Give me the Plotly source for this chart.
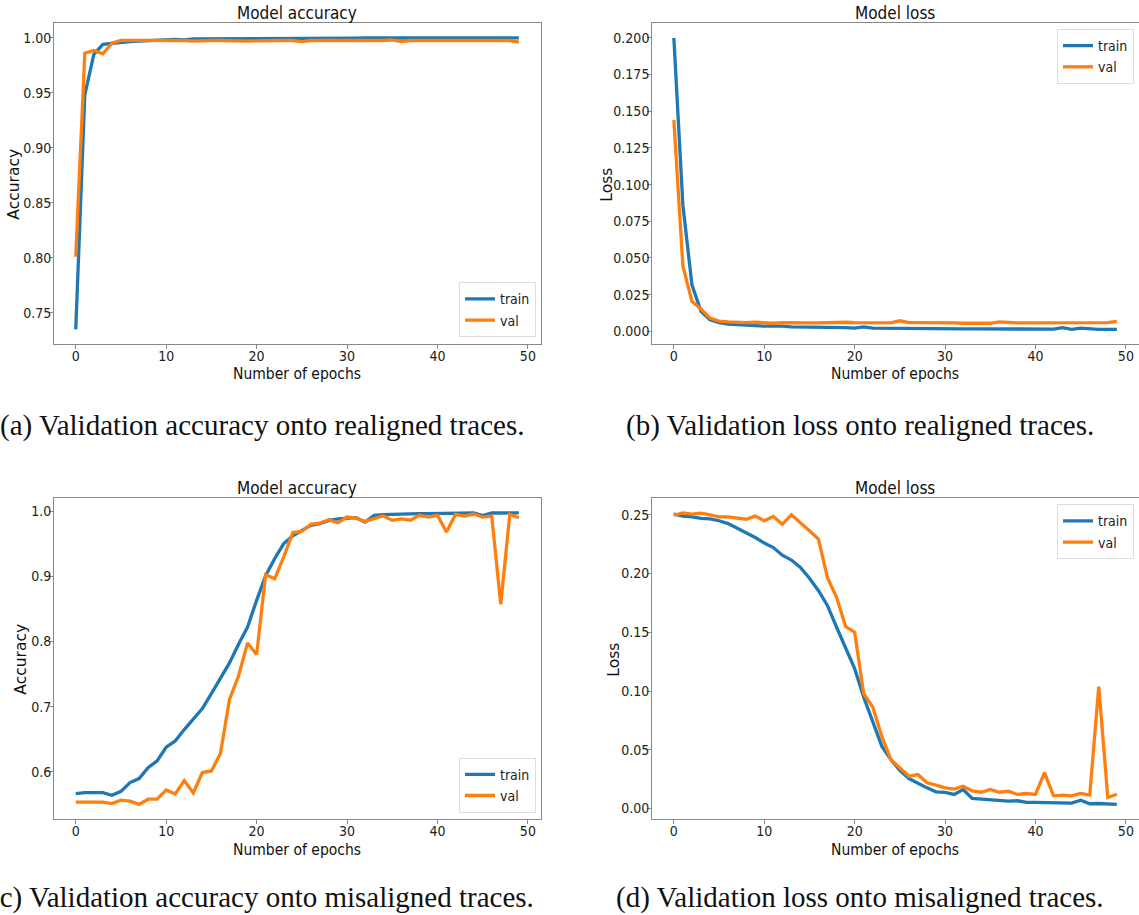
import plotly.graph_objects as go

W, H = 1139, 915
epochs = list(range(50))

a_train = [0.735, 0.948, 0.985, 0.994, 0.995, 0.996, 0.9965, 0.997, 0.9975, 0.998,
           0.9985, 0.9985, 0.998, 0.999, 0.999, 0.999, 0.9992, 0.9993, 0.9993, 0.999,
           0.9996, 0.9991, 0.9995, 0.9995, 0.9996, 0.9996, 0.9996, 0.9997, 0.9997, 0.9997,
           0.9997, 0.9997, 0.9998, 0.9998, 0.9998, 0.9998, 0.9998, 0.9998, 0.9998, 0.9998,
           0.9998, 0.9998, 0.9998, 0.9991, 0.9996, 0.9992, 0.9998, 0.9999, 0.9999, 0.9999]
a_val = [0.801, 0.986, 0.9885, 0.9855, 0.995, 0.9976, 0.9976, 0.9976, 0.9978, 0.9975,
         0.9975, 0.9975, 0.9975, 0.997, 0.9975, 0.9975, 0.9975, 0.9972, 0.9972, 0.997,
         0.9972, 0.9975, 0.9975, 0.9975, 0.9975, 0.9965, 0.9975, 0.9975, 0.997, 0.997,
         0.9975, 0.9975, 0.9975, 0.9975, 0.9975, 0.998, 0.9965, 0.9975, 0.9975, 0.9975,
         0.9975, 0.9978, 0.9975, 0.9978, 0.9975, 0.9978, 0.9978, 0.9978, 0.9975, 0.996]

b_train = [0.200, 0.086, 0.0317, 0.0136, 0.0079, 0.006, 0.005, 0.0045, 0.004, 0.004,
           0.0035, 0.0035, 0.0036, 0.003, 0.003, 0.0028, 0.0026, 0.0025, 0.0025, 0.0025,
           0.0022, 0.003, 0.0022, 0.0021, 0.002, 0.002, 0.002, 0.0019, 0.0019, 0.0019,
           0.0018, 0.0018, 0.0017, 0.0017, 0.0017, 0.0017, 0.0016, 0.0016, 0.0016, 0.0016,
           0.0015, 0.0015, 0.0015, 0.0025, 0.0014, 0.0022, 0.0015, 0.0013, 0.0013, 0.0013]
b_val = [0.144, 0.0446, 0.0204, 0.0152, 0.009, 0.007, 0.0065, 0.006, 0.006, 0.0062,
         0.0058, 0.0055, 0.006, 0.0058, 0.006, 0.0058, 0.0058, 0.006, 0.0058, 0.0062,
         0.006, 0.006, 0.0056, 0.0058, 0.0058, 0.0072, 0.006, 0.006, 0.006, 0.0062,
         0.006, 0.0058, 0.0055, 0.0055, 0.0058, 0.0055, 0.0065, 0.006, 0.0058, 0.0058,
         0.0058, 0.0058, 0.0055, 0.0058, 0.0058, 0.0058, 0.0058, 0.0055, 0.006, 0.0068]

c_train = [0.5667, 0.568, 0.568, 0.568, 0.564, 0.570, 0.5835, 0.5897, 0.6065, 0.6168,
           0.6377, 0.6474, 0.6648, 0.681, 0.697, 0.720, 0.7445, 0.767, 0.7956, 0.822,
           0.863, 0.901, 0.927, 0.950, 0.962, 0.970, 0.978, 0.9806, 0.9857, 0.988,
           0.989, 0.9898, 0.983, 0.9934, 0.9944, 0.995, 0.9955, 0.996, 0.996, 0.996,
           0.9963, 0.997, 0.997, 0.997, 0.997, 0.993, 0.997, 0.997, 0.997, 0.9972]
c_val = [0.5534, 0.5534, 0.5534, 0.5534, 0.5513, 0.5565, 0.555, 0.550, 0.558, 0.558,
         0.572, 0.566, 0.5866, 0.5677, 0.5989, 0.6014, 0.628, 0.711, 0.747, 0.7976,
         0.7798, 0.9024, 0.896, 0.9295, 0.967, 0.969, 0.9796, 0.9816, 0.9867, 0.982,
         0.9908, 0.989, 0.984, 0.988, 0.9928, 0.9857, 0.988, 0.986, 0.9934, 0.9908,
         0.9934, 0.968, 0.9949, 0.9923, 0.9954, 0.9908, 0.9923, 0.857, 0.9949, 0.9898]

d_train = [0.2506, 0.249, 0.2483, 0.247, 0.2466, 0.245, 0.2426, 0.2387, 0.2347, 0.2307,
           0.226, 0.2222, 0.2157, 0.2115, 0.2053, 0.196, 0.1854, 0.1727, 0.1543, 0.1373,
           0.119, 0.0948, 0.0736, 0.053, 0.0416, 0.0325, 0.0254, 0.0212, 0.0175, 0.0141,
           0.0136, 0.0119, 0.0161, 0.0085, 0.0079, 0.0071, 0.0065, 0.0062, 0.0065, 0.0051,
           0.0051, 0.0048, 0.0045, 0.0045, 0.0045, 0.007, 0.004, 0.0042, 0.004, 0.0034]
d_val = [0.2497, 0.2517, 0.2506, 0.2514, 0.25, 0.2483, 0.2483, 0.2472, 0.2463, 0.2489,
         0.2449, 0.2486, 0.242, 0.25, 0.2435, 0.2364, 0.2293, 0.1962, 0.1798, 0.1549,
         0.150, 0.0977, 0.0864, 0.0614, 0.0416, 0.0345, 0.0274, 0.0288, 0.0218, 0.0198,
         0.0175, 0.0164, 0.0189, 0.015, 0.0138, 0.0161, 0.0138, 0.0147, 0.0119, 0.0127,
         0.0119, 0.0305, 0.0107, 0.0113, 0.0107, 0.0127, 0.0113, 0.1037, 0.0093, 0.0121]

series_names = ["train", "val"]
panel_titles = ["Model accuracy", "Model loss", "Model accuracy", "Model loss"]
y_titles = ["Accuracy", "Loss", "Accuracy", "Loss"]
x_title = "Number of epochs"
captions = ["(a) Validation accuracy onto realigned traces.",
            "(b) Validation loss onto realigned traces.",
            "(c) Validation accuracy onto misaligned traces.",
            "(d) Validation loss onto misaligned traces."]
y_dticks = [0.05, 0.025, 0.1, 0.05]
y_formats = [".2f", ".3f", ".1f", ".2f"]

BLUE, ORANGE = "#1f77b4", "#ff7f0e"
SANS = "DejaVu Sans Condensed, DejaVu Sans, sans-serif"
YSANS = "DejaVu Sans, sans-serif"
SERIF = "Liberation Serif, DejaVu Serif, serif"

boxes = [(53.6, 541.0, 23.3, 344.0), (651.7, 1139.0, 23.3, 344.0),
         (53.6, 541.0, 498.3, 819.0), (651.7, 1139.0, 498.3, 819.0)]
legend_pos = [(536, 337.3, "bottom"), (1134, 29, "top"), (536, 812.7, "bottom"), (1134, 504.3, "top")]
ylabel_x = [14, 607, 21, 614]
caption_pos = [(262, 425), (860, 425), (262, 897), (860, 897)]

data = [(a_train, a_val), (b_train, b_val), (c_train, c_val), (d_train, d_val)]

fig = go.Figure()
annotations = []
layout = dict(width=W, height=H, margin=dict(l=0, r=0, t=0, b=0),
              paper_bgcolor="white", plot_bgcolor="white", showlegend=True)

def px(x):
    return x / W

def py(y):
    return 1 - y / H

for i, ((tr, va), box) in enumerate(zip(data, boxes)):
    k = "" if i == 0 else str(i + 1)
    leg = "legend" + k
    for vals, name, col in ((tr, series_names[0], BLUE), (va, series_names[1], ORANGE)):
        fig.add_trace(go.Scatter(x=epochs, y=vals, name=name, mode="lines",
                                 line=dict(color=col, width=3.3),
                                 xaxis="x" + k, yaxis="y" + k, legend=leg))
    lo = min(min(tr), min(va))
    hi = max(max(tr), max(va))
    pad = 0.05 * (hi - lo)
    xpad = 0.05 * (epochs[-1] - epochs[0])
    l, r, t, b = box
    axis_common = dict(showline=True, linecolor="#888888", linewidth=1, mirror=True,
                       showgrid=False, zeroline=False, ticks="outside", ticklen=3.5,
                       tickcolor="#888888",
                       tickfont=dict(family=SANS, size=14, color="#222222"))
    layout["xaxis" + k] = dict(domain=[px(l), px(r)], anchor="y" + k,
                               range=[epochs[0] - xpad, epochs[-1] + xpad],
                               dtick=10, tick0=0, ticklabelstandoff=-4, **axis_common)
    layout["yaxis" + k] = dict(domain=[py(b), py(t)], anchor="x" + k,
                               range=[lo - pad, hi + pad], dtick=y_dticks[i], tick0=0,
                               tickformat=y_formats[i], ticklabelstandoff=-5, **axis_common)
    lx, ly, lya = legend_pos[i]
    layout[leg] = dict(x=px(lx), y=py(ly), xanchor="right", yanchor=lya,
                       bgcolor="white", bordercolor="#dddddd", borderwidth=1,
                       font=dict(family=SANS, size=14, color="#222222"),
                       itemwidth=30, tracegroupgap=0)
    cx = (l + r) / 2
    annotations.append(dict(text=panel_titles[i], x=px(cx), y=py(t - 10), xref="paper", yref="paper",
                            showarrow=False, xanchor="center", yanchor="middle",
                            font=dict(family=SANS, size=17, color="#111111")))
    annotations.append(dict(text=x_title, x=px(cx), y=py(b + 30.5), xref="paper", yref="paper",
                            showarrow=False, xanchor="center", yanchor="middle",
                            font=dict(family=SANS, size=15.5, color="#111111")))
    annotations.append(dict(text=y_titles[i], x=px(ylabel_x[i]), y=py((t + b) / 2 + 1), xref="paper",
                            yref="paper", showarrow=False, xanchor="center", yanchor="middle",
                            textangle=-90, font=dict(family=YSANS, size=15.5, color="#111111")))
    cpx, cpy = caption_pos[i]
    annotations.append(dict(text=captions[i], x=px(cpx), y=py(cpy), xref="paper", yref="paper",
                            showarrow=False, xanchor="center", yanchor="middle",
                            font=dict(family=SERIF, size=29, color="#111111")))

layout["annotations"] = annotations
fig.update_layout(**layout)
fig.write_html("out.html")
